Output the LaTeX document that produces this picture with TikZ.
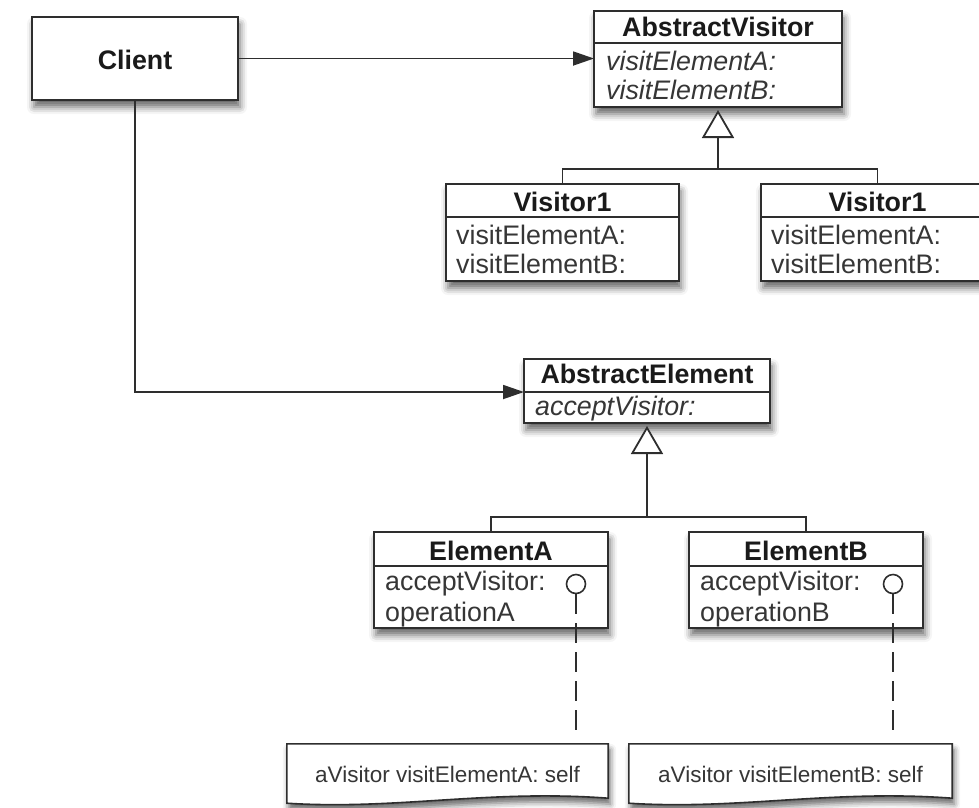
\documentclass[tikz,border=0pt]{standalone}
\usepackage{fontspec}
\setmainfont{Liberation Sans}
\usetikzlibrary{arrows.meta,shadows.blur,calc}
\definecolor{linec}{HTML}{2E2E2E}
\definecolor{txt}{HTML}{1A1A1A}
\definecolor{mtxt}{HTML}{363636}
\tikzset{
 umlbox/.style={draw=linec, line width=1.8pt, fill=white, inner sep=0pt, outer sep=0pt, anchor=north west,
   blur shadow={shadow xshift=2pt, shadow yshift=-7pt, shadow blur radius=7pt, shadow opacity=60}},
 ttl/.style={font=\fontsize{26.8}{30}\selectfont\bfseries, text=txt, inner sep=0pt, anchor=base},
 mth/.style={font=\fontsize{26.8}{30}\selectfont, text=mtxt, inner sep=0pt, anchor=base west},
 amth/.style={mth, font=\fontsize{26.8}{30}\selectfont\itshape},
 divline/.style={draw=linec, line width=1.5pt},
 conn/.style={draw=linec, line width=1.8pt},
 assoc/.style={conn, -{Triangle[length=21pt,width=14pt]}},
 gen/.style={conn, -{Triangle[open,length=28pt,width=32pt,fill=white]}, shorten >=3pt},
 lolli/.style={circle, draw=linec, line width=1.6pt, fill=white, minimum size=19pt, inner sep=0pt},
 notebox/.style={rectangle, draw=none, inner sep=0pt, font=\fontsize{22.5}{26}\selectfont, text=mtxt},
 noteline/.style={draw=linec, line width=1.6pt, fill=white,
   blur shadow={shadow xshift=2pt, shadow yshift=-6pt, shadow blur radius=6pt, shadow opacity=60}},
 dashln/.style={draw=linec, line width=1.6pt, dash pattern=on 20pt off 9pt}
}
\begin{document}
\begin{tikzpicture}[x=1pt,y=-1pt]
\useasboundingbox (0,0) rectangle (979,807);

% Client
\node[umlbox, minimum width=206pt, minimum height=83pt] (client) at (32,17) {};
\node[ttl] (clientT) at (135,69) {Client};

% AbstractVisitor
\node[umlbox, minimum width=248pt, minimum height=96pt] (av) at (594,11) {};
\draw[divline] ($(av.north west)+(0,32)$) -- ($(av.north east)+(0,32)$);
\node[ttl] (avT) at (718,36) {AbstractVisitor};
\node[amth] (avM1) at (606,70) {visitElementA:};
\node[amth] (avM2) at (606,99) {visitElementB:};

% Visitor1 left
\node[umlbox, minimum width=233pt, minimum height=97pt] (v1) at (446,184) {};
\draw[divline] ($(v1.north west)+(0,33)$) -- ($(v1.north east)+(0,33)$);
\node[ttl] (v1T) at (562.5,211) {Visitor1};
\node[mth] (v1M1) at (456,244) {visitElementA:};
\node[mth] (v1M2) at (456,273) {visitElementB:};

% Visitor1 right
\node[umlbox, minimum width=233pt, minimum height=97pt] (v2) at (761,184) {};
\draw[divline] ($(v2.north west)+(0,33)$) -- ($(v2.north east)+(0,33)$);
\node[ttl] (v2T) at (877.5,211) {Visitor1};
\node[mth] (v2M1) at (771,244) {visitElementA:};
\node[mth] (v2M2) at (771,273) {visitElementB:};

% AbstractElement
\node[umlbox, minimum width=246pt, minimum height=64pt] (ae) at (524,359) {};
\draw[divline] ($(ae.north west)+(0,33)$) -- ($(ae.north east)+(0,33)$);
\coordinate (aediv) at ($(ae.north west)+(0,33)$);
\node[ttl] (aeT) at (647,383) {AbstractElement};
\node[amth] (aeM1) at (535,415) {acceptVisitor:};

% ElementA
\node[umlbox, minimum width=234pt, minimum height=96pt] (ea) at (374,532) {};
\draw[divline] ($(ea.north west)+(0,34)$) -- ($(ea.north east)+(0,34)$);
\node[ttl] (eaT) at (491,560) {ElementA};
\node[mth] (eaM1) at (385,590) {acceptVisitor:};
\node[mth] (eaM2) at (385,621) {operationA};

% ElementB
\node[umlbox, minimum width=234pt, minimum height=96pt] (eb) at (689,532) {};
\draw[divline] ($(eb.north west)+(0,34)$) -- ($(eb.north east)+(0,34)$);
\node[ttl] (ebT) at (806,560) {ElementB};
\node[mth] (ebM1) at (700,590) {acceptVisitor:};
\node[mth] (ebM2) at (700,621) {operationB};

% Notes
\node[notebox, minimum width=321pt, minimum height=59pt] (noteA) at (447.5,773.5) {};
\draw[noteline] (noteA.north west) -- (noteA.north east) -- ($(noteA.south east)+(0,-5)$)
  .. controls ($(noteA.south east)+(-120,-14)$) and ($(noteA.south west)+(110,7)$) .. (noteA.south west) -- cycle;
\node[notebox] (noteAT) at (447.5,774) {aVisitor visitElementA: self};

\node[notebox, minimum width=323pt, minimum height=59pt] (noteB) at (790.5,773.5) {};
\draw[noteline] (noteB.north west) -- (noteB.north east) -- ($(noteB.south east)+(0,-5)$)
  .. controls ($(noteB.south east)+(-120,-14)$) and ($(noteB.south west)+(110,7)$) .. (noteB.south west) -- cycle;
\node[notebox] (noteBT) at (790.5,774) {aVisitor visitElementB: self};

% Lollipops and dashed links
\node[lolli] (circA) at (576,584) {};
\node[lolli] (circB) at (893,584) {};
\draw[dashln, shorten >=12pt] (circA.south) -- (circA.south |- noteA.north);
\draw[dashln, shorten >=12pt] (circB.south) -- (circB.south |- noteB.north);

% Associations from Client
\draw[assoc] (client.east) -- (client.east -| av.west);
\draw[assoc] (client.south) |- (aediv);

% Generalizations
\coordinate (vbar) at (718,169);
\draw[conn] (v1.north) |- (vbar) -| (v2.north);
\draw[gen] (vbar) -- (av.south);

\coordinate (ebar) at (647,517);
\draw[conn] (ea.north) |- (ebar) -| (eb.north);
\draw[gen] (ebar) -- (ae.south);
\end{tikzpicture}
\end{document}
